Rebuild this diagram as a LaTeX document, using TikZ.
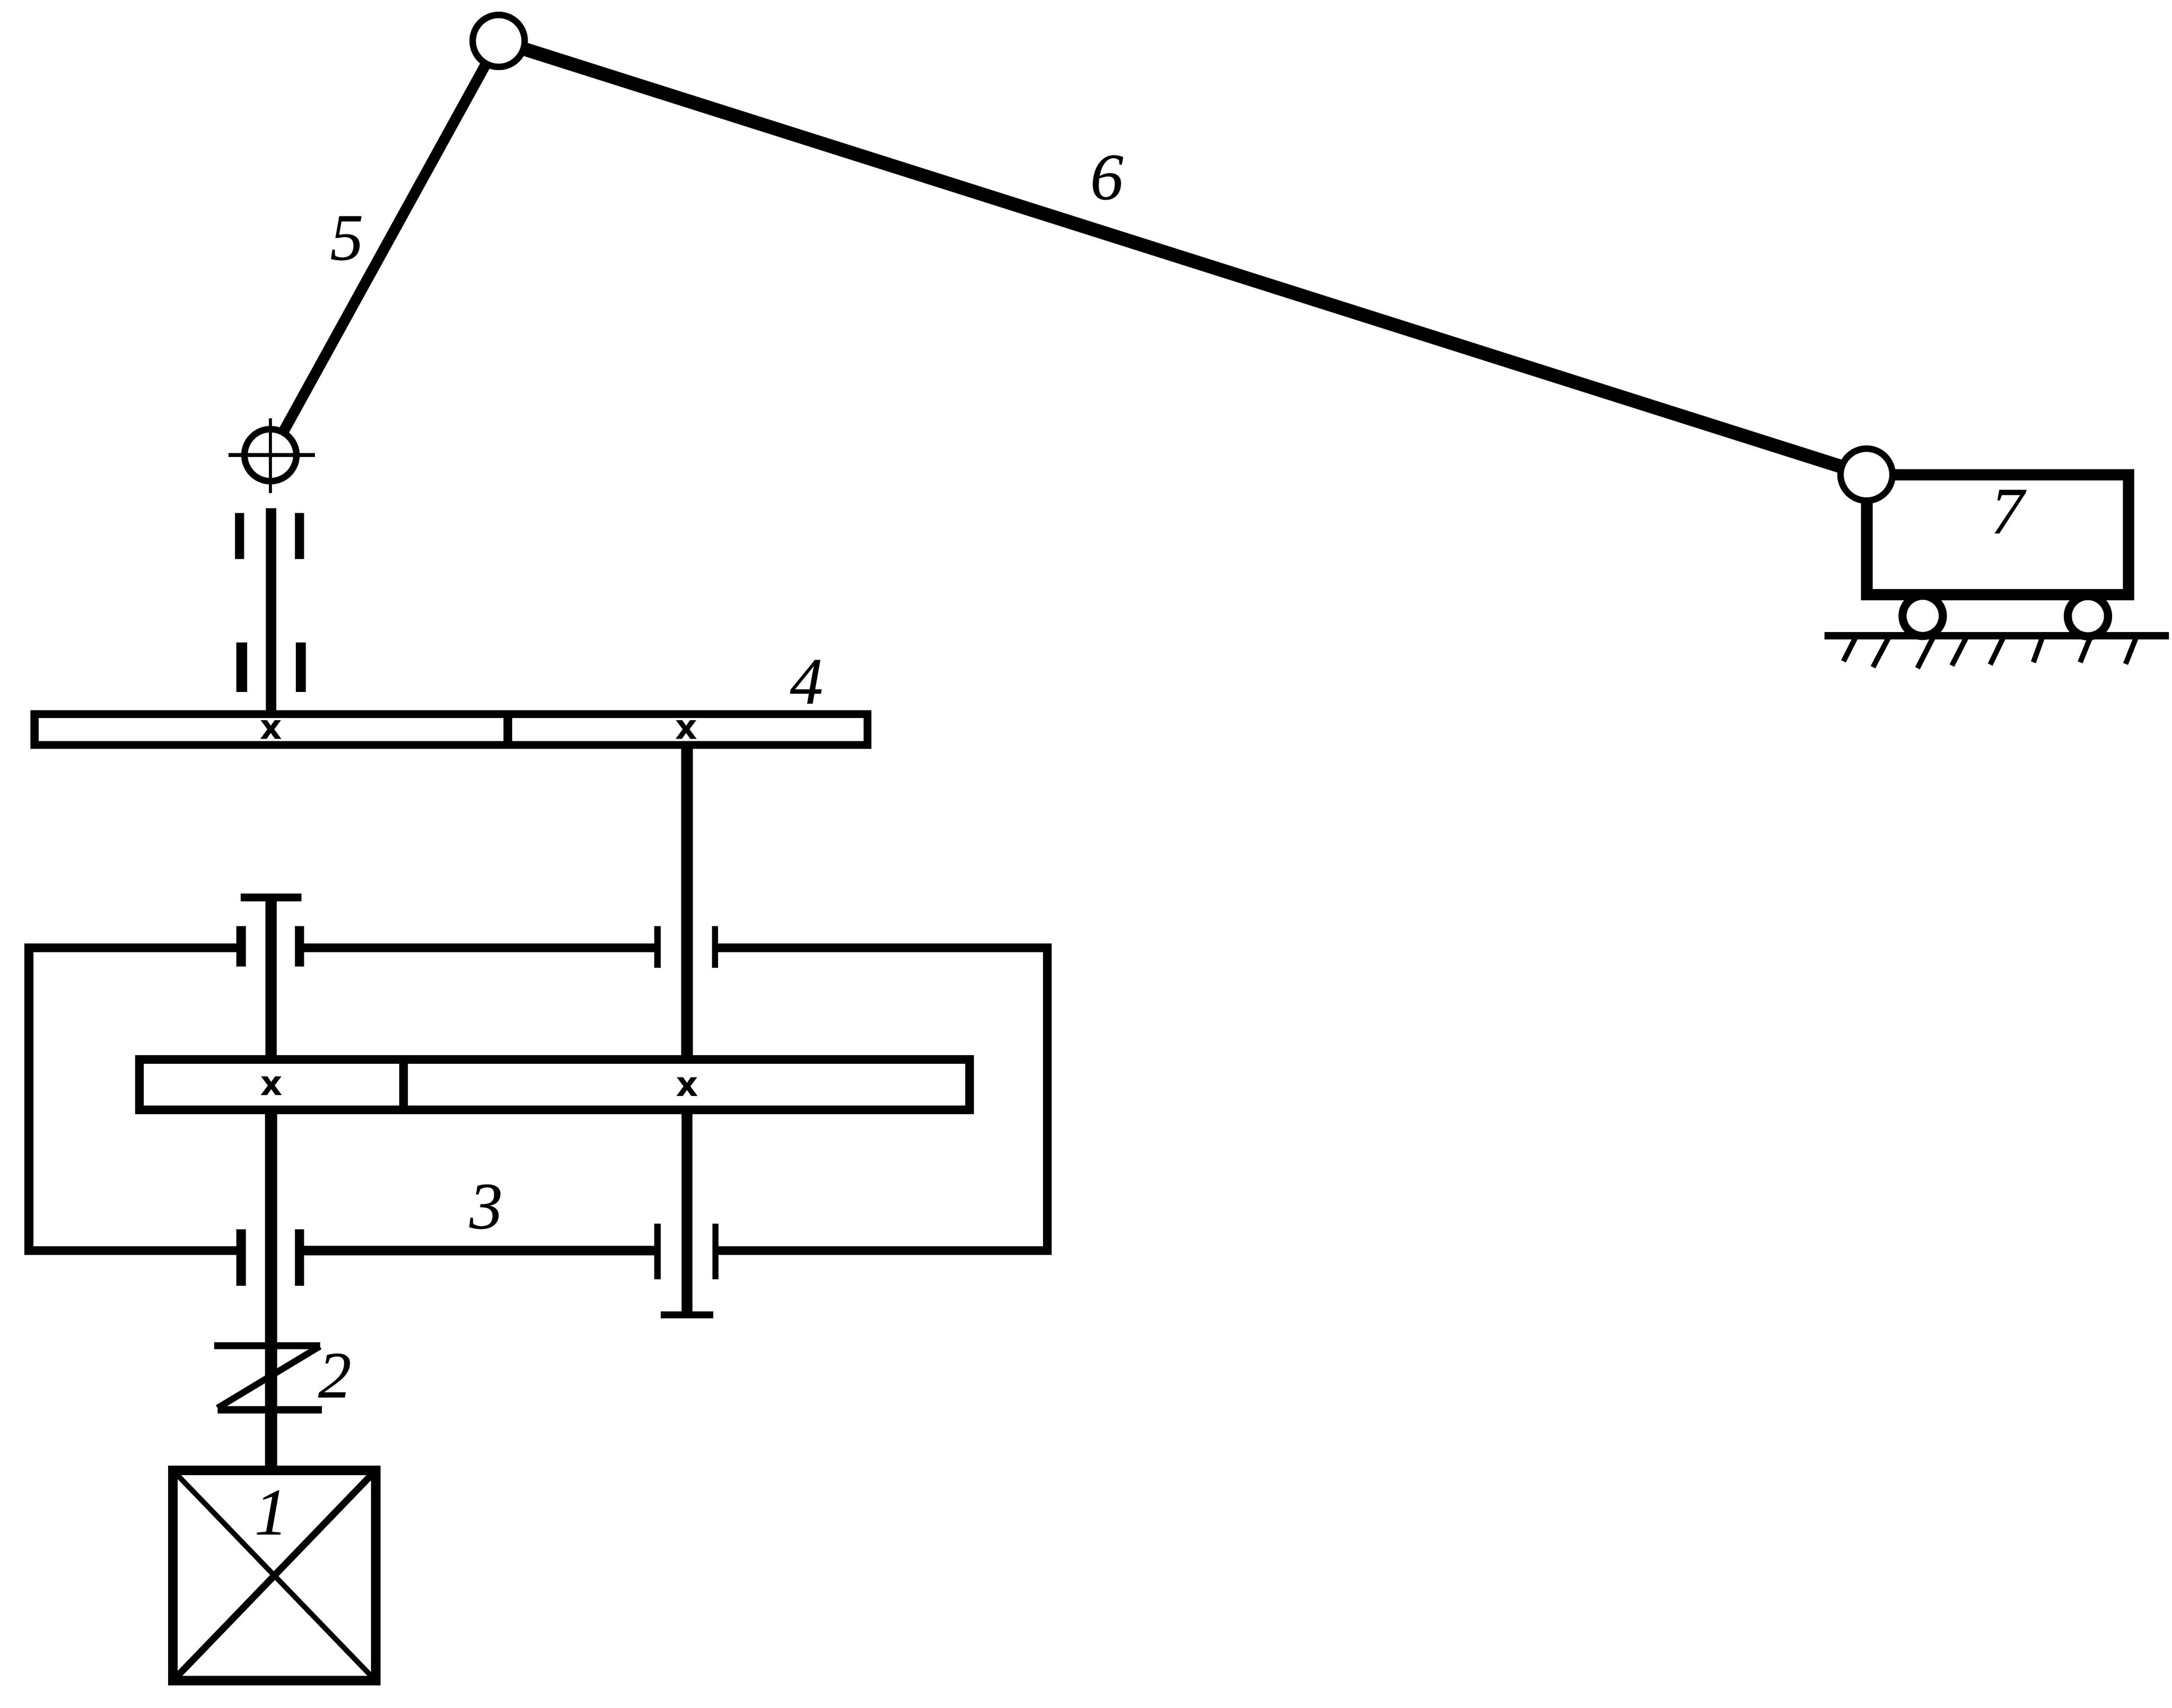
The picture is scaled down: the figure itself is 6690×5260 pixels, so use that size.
\documentclass[tikz,border=0pt]{standalone}
\usepackage{fontspec}
\usetikzlibrary{backgrounds}
\setmainfont{Liberation Serif}
\newfontface\labfont{Liberation Serif Italic}[FakeBold=0.4]
\newfontfamily\markfont{DejaVu Sans}
\tikzset{
  lw/.style={line width=#1*0.2845pt},
  lab/.style={font=\labfont\fontsize{58}{58}\selectfont, inner sep=0pt, outer sep=0pt},
  crossmark/.style={font=\markfont\bfseries\fontsize{30}{30}\selectfont, inner sep=0pt, outer sep=0pt, text height=16pt, text depth=0pt},
  pin/.style={circle, draw=black, fill=white, lw=20, inner sep=0pt, outer sep=0pt, minimum size=1.6cm},
  wheel/.style={circle, draw=black, fill=white, lw=25, inner sep=0pt, outer sep=0pt, minimum size=1.24cm},
  plate/.style n args={2}{rectangle, fill=black, inner sep=0pt, outer sep=0pt, minimum width=#1*0.01cm, minimum height=#2*0.01cm},
  boxframe/.style n args={3}{rectangle, draw=black, lw=#3, inner sep=0pt, outer sep=0pt, minimum width=#1*0.01cm, minimum height=#2*0.01cm},
}
\begin{document}
\begin{tikzpicture}[x=0.01cm,y=-0.01cm]
\useasboundingbox (0,0) rectangle (6690,5260);
% ---- named points
\coordinate (shaftTop) at (835,1565);
\coordinate (tL) at (835,2764);
\coordinate (tR) at (2116,4050);
\coordinate (hTL) at (89,2920);
\coordinate (hBL) at (89,3852);
\coordinate (hTR) at (3226,2920);
\coordinate (hBR) at (3226,3852);
\coordinate (d4a) at (1564,2200);
\coordinate (d4b) at (1564,2295);
\coordinate (d3a) at (1243,3264);
\coordinate (d3b) at (1243,3419);
\coordinate (ga) at (659,4145);
\coordinate (gb) at (986,4145);
\coordinate (gc) at (670,4342);
\coordinate (gd) at (992,4342);
\coordinate (ge) at (670,4337);
\coordinate (gf) at (985,4147);
\coordinate (crossW) at (704,1402);
\coordinate (crossE) at (970,1402);
\coordinate (crossN) at (833,1288);
\coordinate (crossS) at (833,1519);
\coordinate (gl) at (5620,1958);
\coordinate (gr) at (6680,1958);
% ---- gears, motor, slider frames
\node[boxframe={2566}{95}{25}] (g4) at (1389,2247) {};
\node[boxframe={2556}{155}{27}] (g3) at (1708,3341) {};
\node[boxframe={625}{648}{29}] (motor) at (845,4853) {};
\node[boxframe={806}{369}{35}] (slider) at (6153,1647) {};
% ---- bearing plates
\node[plate={29}{142}] (b1a) at (738,1651) {};
\node[plate={28}{142}] (b1b) at (922,1651) {};
\node[plate={33}{153}] (b2a) at (745,2055) {};
\node[plate={31}{153}] (b2b) at (926,2055) {};
\node[plate={29}{124}] (uL) at (743,2915) {};
\node[plate={28}{124}] (uR) at (922,2915) {};
\node[plate={19}{128}] (uM) at (2025,2917) {};
\node[plate={19}{128}] (uN) at (2202,2917) {};
\node[plate={29}{174}] (lL) at (743,3873) {};
\node[plate={28}{174}] (lR) at (922,3873) {};
\node[plate={19}{171}] (lM) at (2025,3855) {};
\node[plate={19}{171}] (lN) at (2204,3855) {};
\node[plate={188}{24}] (capL) at (835,2764) {};
\node[plate={163}{22}] (capR) at (2116,4050) {};
% ---- cross marks
\node[crossmark] (m4L) at (835,2248) {x};
\node[crossmark] (m4R) at (2114,2249) {x};
\node[crossmark] (m3L) at (836,3345) {x};
\node[crossmark] (m3R) at (2116,3348) {x};
% ---- shafts
\draw[lw=33] (shaftTop) -- (shaftTop |- g4.north);
\draw[lw=37] (tR |- g4.south) -- (tR |- g3.north);
\draw[lw=33] (tR |- g3.south) -- (capR.center);
\draw[lw=35] (capL.center) -- (tL |- g3.north);
\draw[lw=37] (tL |- g3.south) -- (tL |- motor.north);
% ---- gear dividers
\draw[lw=27] (d4a) -- (d4b);
\draw[lw=27] (d3a) -- (d3b);
% ---- housing
\draw[lw=27] (uL |- hTL) -- (hTL) -- (hBL) -- (lL |- hBL);
\draw[lw=27] (uR |- hTL) -- (uM |- hTL);
\draw[lw=29] (lR |- hBL) -- (lM |- hBL);
\draw[lw=27] (uN |- hTL) -- (hTR) -- (hBR) -- (lN |- hBR);
% ---- coupling 2
\draw[lw=21] (ga) -- (gb);
\draw[lw=23] (gc) -- (gd);
\draw[lw=20] (ge) -- (gf);
% ---- motor cross
\draw[lw=16] (motor.north west) -- (motor.south east);
\draw[lw=21] (motor.north east) -- (motor.south west);
% ---- ground
\draw[lw=22] (gl) -- (gr);
\foreach \n/\xa/\xb/\yb in {1/5716/5678/2037,2/5818/5769/2055,3/5955/5906/2058,4/6057/6012/2050,5/6171/6130/2047,6/6291/6263/2040,7/6439/6407/2040,8/6580/6547/2045}{
  \coordinate (ht\n) at (\xa,1962);
  \coordinate (hb\n) at (\xb,\yb);
  \draw[lw=16] (ht\n) -- (hb\n);
}
% ---- pins
\node[pin] (crank) at (833,1402) {};
\node[pin] (top) at (1536,126) {};
\node[pin] (slide) at (5749,1462) {};
% ---- links, behind the pins
\begin{scope}[on background layer]
\draw[lw=33] (crank.center) -- (top.center);
\draw[lw=42] (top.center) -- (slide.center);
\end{scope}
\draw[lw=12] (crossW) -- (crossE);
\draw[lw=10] (crossN) -- (crossS);
% ---- wheels
\node[wheel] (w1) at (5922,1897) {};
\node[wheel] (w2) at (6431,1898) {};
% ---- labels
\node[lab] (L1) at (835,4659) {1};
\node[lab] (L2) at (1031,4237) {2};
\node[lab] (L3) at (1497,3717) {3};
\node[lab] (L4) at (2484,2100) {4};
\node[lab] (L5) at (1068,734) {5};
\node[lab] (L6) at (3409,547) {6};
\node[lab] (L7) at (6183,1576) {7};
\end{tikzpicture}
\end{document}
